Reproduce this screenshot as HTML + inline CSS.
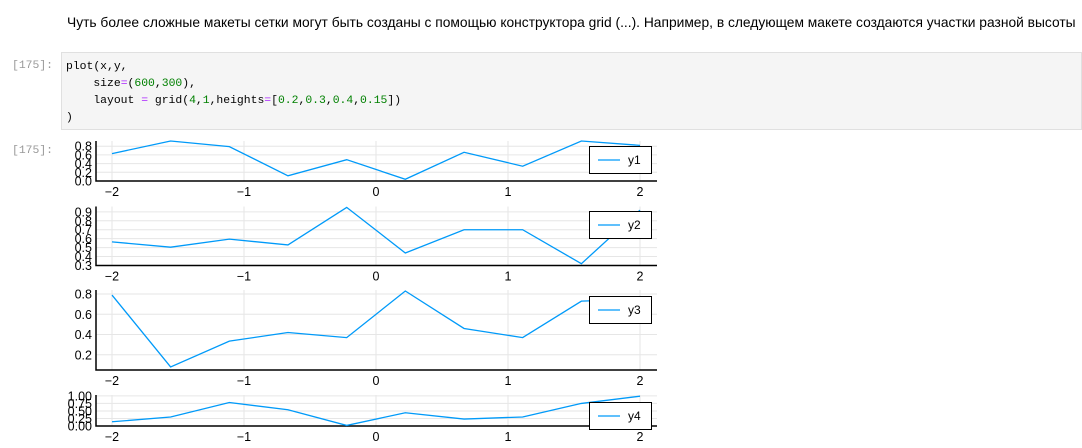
<!DOCTYPE html>
<html><head><meta charset="utf-8">
<style>
body{margin:0;width:1082px;height:448px;overflow:hidden;background:#fff;font-family:"Liberation Sans","DejaVu Sans",sans-serif;position:relative}
.md{position:absolute;left:67px;top:15px;font-size:13.8px;color:#000;white-space:nowrap}
.prompt{position:absolute;left:12px;font-family:"Liberation Mono",monospace;font-size:11.4px;color:#999}
.cell{position:absolute;left:61px;top:52px;width:1021px;height:78px;background:#f5f5f5;border:1px solid #e0e0e0;box-sizing:border-box}
.code{position:absolute;left:66px;top:59px;font-family:"Liberation Mono",monospace;font-size:11.4px;line-height:17px;white-space:pre;color:#000}
.n{color:#008000}.o{color:#aa22ff}
svg{position:absolute;left:0;top:0}
</style></head><body>
<div class="md">Чуть более сложные макеты сетки могут быть созданы с помощью конструктора grid (...). Например, в следующем макете создаются участки разной высоты</div>
<div class="prompt" style="top:60px">[175]:</div>
<div class="cell"></div>
<div class="code">plot(x,y,
    size<span class="o">=</span>(<span class="n">600</span>,<span class="n">300</span>),
    layout <span class="o">=</span> grid(<span class="n">4</span>,<span class="n">1</span>,heights<span class="o">=</span>[<span class="n">0.2</span>,<span class="n">0.3</span>,<span class="n">0.4</span>,<span class="n">0.15</span>])
)</div>
<div class="prompt" style="top:145px">[175]:</div>
<svg id="chart" width="1082" height="448"></svg>
<script>
const xs=[-2,-1.556,-1.111,-0.667,-0.222,0.222,0.667,1.111,1.556,2];
const xTicks=[-2,-1,0,1,2];
const xTickLabels=["−2","−1","0","1","2"];
const y1=[0.63,0.92,0.79,0.12,0.49,0.04,0.66,0.34,0.92,0.82];
const y2=[0.564,0.505,0.595,0.53,0.95,0.44,0.70,0.70,0.32,0.92];
const y3=[0.79,0.08,0.335,0.42,0.37,0.83,0.46,0.37,0.73,0.75];
const y4=[0.14,0.30,0.78,0.54,0.02,0.44,0.23,0.30,0.75,0.99];
const yTicks1=[0,0.2,0.4,0.6,0.8], yLabels1=["0.0","0.2","0.4","0.6","0.8"];
const yTicks2=[0.3,0.4,0.5,0.6,0.7,0.8,0.9], yLabels2=["0.3","0.4","0.5","0.6","0.7","0.8","0.9"];
const yTicks3=[0.2,0.4,0.6,0.8], yLabels3=["0.2","0.4","0.6","0.8"];
const yTicks4=[0,0.25,0.5,0.75,1], yLabels4=["0.00","0.25","0.50","0.75","1.00"];
const labels=["y1","y2","y3","y4"];

const svg=document.getElementById('chart');
const NS='http://www.w3.org/2000/svg';
function mk(t,a){const e=document.createElementNS(NS,t);for(const k in a)e.setAttribute(k,a[k]);svg.appendChild(e);return e;}
const X0=96,X1=657;
function sx(v){return 376+v*132;}
const panels=[
 {ys:y1,t:yTicks1,l:yLabels1,top:141,bot:181,ymin:0,ymax:0.92,leg:146},
 {ys:y2,t:yTicks2,l:yLabels2,top:206.5,bot:265.5,ymin:0.3,ymax:0.96,leg:211},
 {ys:y3,t:yTicks3,l:yLabels3,top:290,bot:370,ymin:0.05,ymax:0.84,leg:296},
 {ys:y4,t:yTicks4,l:yLabels4,top:395,bot:426,ymin:0,ymax:1.03,leg:402}
];
panels.forEach((p,i)=>{
 const sy=v=>p.bot-(v-p.ymin)/(p.ymax-p.ymin)*(p.bot-p.top);
 xTicks.forEach((v,j)=>{
  const g=mk('line',{x1:sx(v),x2:sx(v),y1:p.top,y2:p.bot,stroke:'#e6e6e6','stroke-width':1});
  
  
  const t=mk('text',{x:sx(v),y:p.bot+15,'text-anchor':'middle','font-size':12.5,fill:'#000'});
  t.textContent=xTickLabels[j];
  
  
 });
 p.t.forEach((v,j)=>{
  const g=mk('line',{x1:X0,x2:X1,y1:sy(v),y2:sy(v),stroke:'#e6e6e6','stroke-width':1});
  
  
  const t=mk('text',{x:X0-4,y:sy(v)+4.5,'text-anchor':'end','font-size':12.5,fill:'#000'});
  t.textContent=p.l[j];
  
  
 });
 const ax=mk('path',{d:`M${X0},${p.top} V${p.bot} H${X1}`,fill:'none',stroke:'#000','stroke-width':1.5});
 
 
 const pts=p.ys.map((v,j)=>sx(xs[j])+','+sy(v)).join(' ');
 const ln=mk('polyline',{points:pts,fill:'none',stroke:'#009af9','stroke-width':1.3});
 
 
 const lb=mk('rect',{x:589.5,y:p.leg+0.5,width:62,height:27,fill:'#fff',stroke:'#000','stroke-width':1});
 
 
 const ll=mk('line',{x1:598,x2:620,y1:p.leg+14,y2:p.leg+14,stroke:'#009af9','stroke-width':1.3});
 
 
 const lt=mk('text',{x:628,y:p.leg+18,'font-size':12,fill:'#000'});
 lt.textContent=labels[i];
 
 
});
</script>
</body></html>
